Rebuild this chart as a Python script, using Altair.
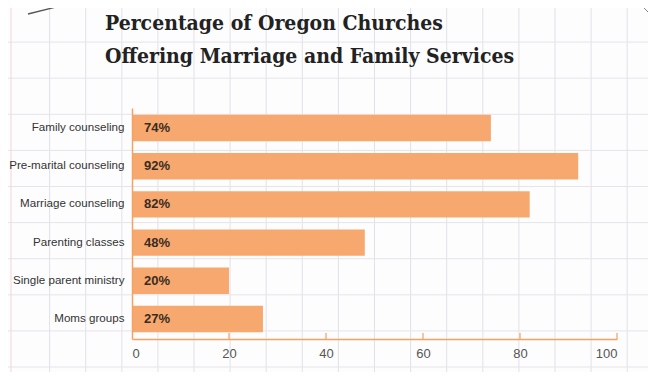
import altair as alt
import pandas as pd
import urllib.parse

categories = ["Family counseling", "Pre-marital counseling", "Marriage counseling",
              "Parenting classes", "Single parent ministry", "Moms groups"]
values = [74, 92, 82, 48, 20, 27]
tick_values = [0, 20, 40, 60, 80, 100]
title_lines = ["Percentage of Oregon Churches", "Offering Marriage and Family Services"]

BAR = "#F7A86F"
AXIS = "#F4A262"

# decorative notebook-paper background (page pixel coordinates)
parts = ["<svg xmlns='http://www.w3.org/2000/svg' width='656' height='380'>",
         "<rect width='656' height='380' fill='#fdfdfe'/>"]
x = 13.5 + 36.1
while x < 656:
    parts.append(f"<line x1='{x:.1f}' y1='0' x2='{x:.1f}' y2='380' stroke='#e1e1e9' stroke-width='1'/>")
    x += 36.1
y = 6.0
while y < 380:
    parts.append(f"<line x1='0' y1='{y:.1f}' x2='656' y2='{y:.1f}' stroke='#e4e4eb' stroke-width='1'/>")
    y += 36.1
parts.append("<line x1='11' y1='0' x2='11' y2='380' stroke='#f0d4dc' stroke-width='1'/>")
parts.append("<line x1='28' y1='14' x2='68' y2='4' stroke='#555' stroke-width='1.3'/>")
parts.append("<line x1='636' y1='0' x2='656' y2='20' stroke='#666' stroke-width='0.8'/>")
parts.append("</svg>")
bg_url = "data:image/svg+xml;charset=utf-8," + urllib.parse.quote("".join(parts))

df = pd.DataFrame({"category": categories, "value": values})
df["label"] = [f"{v}%" for v in values]
ticks_df = pd.DataFrame({"t": tick_values})
bg_df = pd.DataFrame({"url": [bg_url]})

W, H = 485, 231

xscale = alt.Scale(domain=[0, 100])
yscale = alt.Scale(paddingInner=0.31, paddingOuter=0.18)

bg = alt.Chart(bg_df).mark_image(width=656, height=380, align="left", baseline="top", aspect=False).encode(
    x=alt.value(-132), y=alt.value(-108), url=alt.Url("url:N")
)

bars = alt.Chart(df).mark_bar(color=BAR).encode(
    x=alt.X("value:Q", scale=xscale,
            axis=alt.Axis(values=tick_values, title=None, grid=False, ticks=False,
                          domainColor=AXIS, domainWidth=1.5, labelFontSize=13,
                          labelColor="#555", labelPadding=8, labelFont="Liberation Sans",
                          zindex=1)),
    y=alt.Y("category:N", sort=categories, scale=yscale,
            axis=alt.Axis(title=None, ticks=False, domainColor=AXIS, domainWidth=1.5,
                          labelFontSize=11.6, labelColor="#333", labelPadding=8,
                          labelFont="Liberation Sans", labelLimit=300, zindex=1)),
)

labels = alt.Chart(df).mark_text(align="left", baseline="middle", dx=12, fontSize=13,
                                 fontWeight="bold", color="#3a2c22", font="Liberation Sans").encode(
    x=alt.X("zero:Q", scale=xscale),
    y=alt.Y("category:N", sort=categories),
    text="label:N",
).transform_calculate(zero="0")

tick_marks = alt.Chart(ticks_df).transform_filter("datum.t > 0").mark_rule(color=AXIS, strokeWidth=1.2).encode(
    x=alt.X("t:Q", scale=xscale),
    y=alt.value(H),
    y2=alt.value(H - 6),
)

chart = alt.layer(bg, bars, labels, tick_marks).properties(
    width=W, height=H,
    title=alt.TitleParams(text=title_lines, anchor="start", frame="group", dx=-27, dy=84,
                          baseline="alphabetic",
                          font="DejaVu Serif Condensed", fontSize=21, fontWeight="bold",
                          color="#222", lineHeight=33, offset=0, zindex=1),
    autosize=alt.AutoSizeParams(type="none"),
    padding={"left": 124, "top": 100, "right": 31, "bottom": 33},
).configure_view(stroke=None).configure(background="white")

chart.save("out.html", embed_options={"renderer": "svg", "actions": False})
